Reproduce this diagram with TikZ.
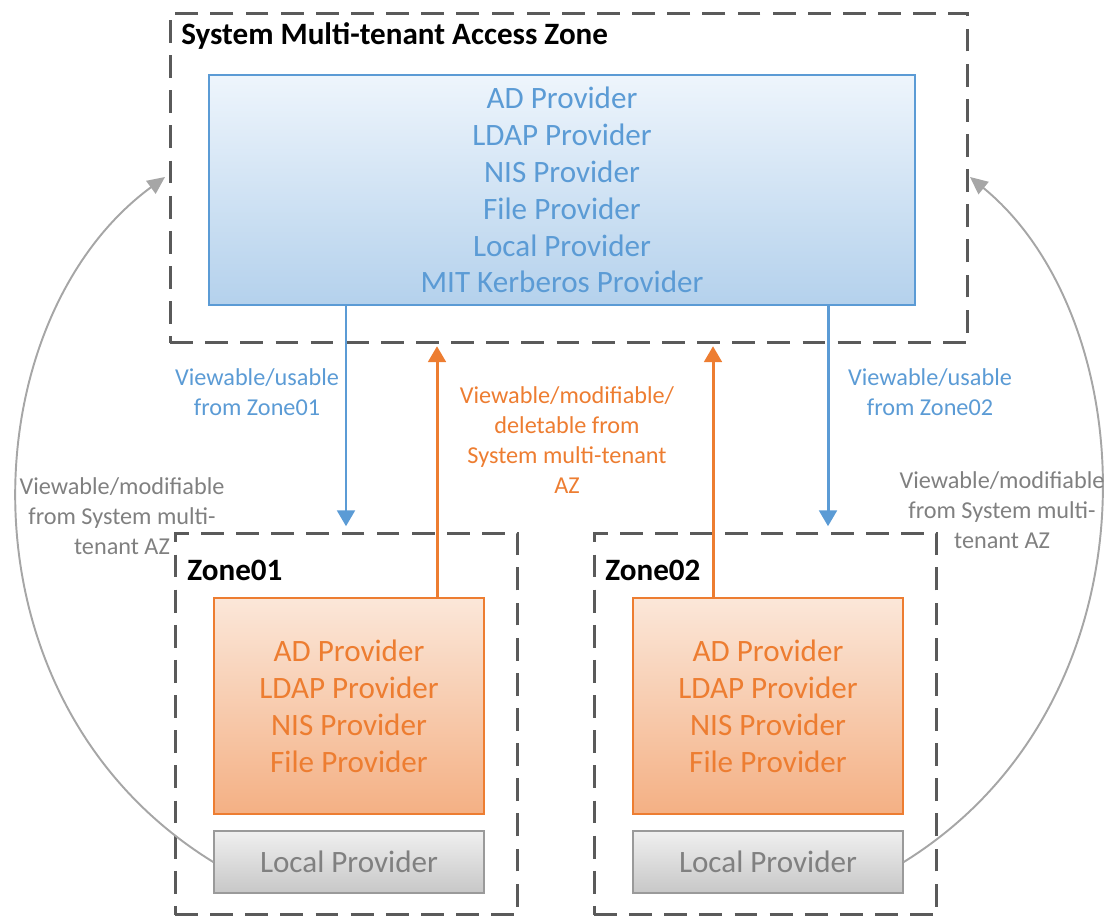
\documentclass[tikz,border=0pt]{standalone}
\usepackage{fontspec}
\setmainfont{Carlito}
\usetikzlibrary{arrows.meta}

\definecolor{azblue}{HTML}{5B9BD5}
\definecolor{aztop}{HTML}{EEF5FC}
\definecolor{azbottom}{HTML}{B4D1EC}
\definecolor{azorange}{HTML}{ED7D31}
\definecolor{ortop}{HTML}{FBE7D9}
\definecolor{orbottom}{HTML}{F4B084}
\definecolor{zonegray}{HTML}{5A5A5A}
\definecolor{lpgray}{HTML}{9A9A9A}
\definecolor{lptext}{HTML}{808080}
\definecolor{curvegray}{HTML}{A6A6A6}

\newcommand{\BigFont}{\fontsize{17.7}{21}\selectfont}
\newcommand{\SmallFont}{\fontsize{13.8}{17}\selectfont}

\tikzset{
  zonebox/.style={draw=zonegray, line width=1.7pt, dash pattern=on 13pt off 7pt,
    inner sep=0pt},
  zonetitle/.style={anchor=west, inner sep=0pt, font=\BigFont\bfseries},
  mtbox/.style={draw=azblue, line width=0.9pt, top color=aztop, bottom color=azbottom,
    text=azblue, align=center, font=\BigFont, inner sep=0pt},
  zpbox/.style={draw=azorange, line width=0.9pt, top color=ortop, bottom color=orbottom,
    text=azorange, align=center, font=\BigFont, inner sep=0pt,
    minimum width=5.4cm, minimum height=4.32cm},
  lpbox/.style={draw=lpgray, line width=0.9pt, top color=black!6, bottom color=black!22,
    text=lptext, font=\BigFont, inner sep=0pt, minimum width=5.4cm, minimum height=1.24cm},
  bluearrow/.style={draw=azblue, line width=1.7pt,
    -{Triangle[width=10pt,length=9pt]}},
  orangearrow/.style={draw=azorange, line width=1.7pt,
    -{Triangle[width=10pt,length=9pt]}},
  grayarrow/.style={draw=curvegray, line width=1.1pt,
    -{Triangle[width=9pt,length=10pt]}},
  lbl/.style={align=center, font=\SmallFont, inner sep=0pt}
}

\begin{document}
\begin{tikzpicture}[x=0.02cm, y=-0.02cm]
  \useasboundingbox (0,0) rectangle (1118,918);

  % access zones
  \node[zonebox, minimum width=15.96cm, minimum height=6.6cm] (sysaz) at (569,178) {};
  \node[zonebox, minimum width=6.86cm, minimum height=7.64cm] (zoneA) at (346.5,724) {};
  \node[zonebox, minimum width=6.86cm, minimum height=7.64cm] (zoneB) at (765.5,724) {};
  \node[zonetitle] (sysaztitle) at (181,36) {System Multi-tenant Access Zone};
  \node[zonetitle] (zoneAtitle) at (187,570) {Zone01};
  \node[zonetitle] (zoneBtitle) at (605,570) {Zone02};

  % providers
  \node[mtbox, minimum width=14.12cm, minimum height=4.6cm] (mt) at (562,190)
    {AD Provider\\LDAP Provider\\NIS Provider\\File Provider\\Local Provider\\MIT Kerberos Provider};
  \node[zpbox] (provA) at (349,706) {AD Provider\\LDAP Provider\\NIS Provider\\File Provider};
  \node[zpbox] (provB) at (768,706) {AD Provider\\LDAP Provider\\NIS Provider\\File Provider};
  \node[lpbox] (localA) at (349,862) {Local Provider};
  \node[lpbox] (localB) at (768,862) {Local Provider};

  % arrows
  \coordinate (xA) at (346,0);
  \coordinate (xB) at (437,0);
  \coordinate (xC) at (713,0);
  \coordinate (xD) at (828,0);
  \draw[bluearrow] (mt.south -| xA) -- ([yshift=3pt]zoneA.north -| xA);
  \draw[orangearrow] (provA.north -| xB) -- ([yshift=-1pt]sysaz.south -| xB);
  \draw[orangearrow] (provB.north -| xC) -- ([yshift=-1pt]sysaz.south -| xC);
  \draw[bluearrow] (mt.south -| xD) -- ([yshift=3pt]zoneB.north -| xD);
  \coordinate (tipA) at (165,177);
  \coordinate (tipB) at (970,177);
  \draw[grayarrow] (localA.west) .. controls (-50,700) and (-30,320) .. (tipA);
  \draw[grayarrow] (localB.east) .. controls (1165,700) and (1145,320) .. (tipB);

  % labels
  \node[lbl, text=azblue] (lblA) at (257,392) {Viewable/usable\\from Zone01};
  \node[lbl, text=azorange] (lblmt) at (567,440)
    {Viewable/modifiable/\\deletable from\\System multi-tenant\\AZ};
  \node[lbl, text=azblue] (lblB) at (930,392) {Viewable/usable\\from Zone02};
  \node[lbl, text=lptext] (lblleft) at (122,516)
    {Viewable/modifiable\\from System multi-\\tenant AZ};
  \node[lbl, text=lptext] (lblright) at (1002,510)
    {Viewable/modifiable\\from System multi-\\tenant AZ};
\end{tikzpicture}
\end{document}
